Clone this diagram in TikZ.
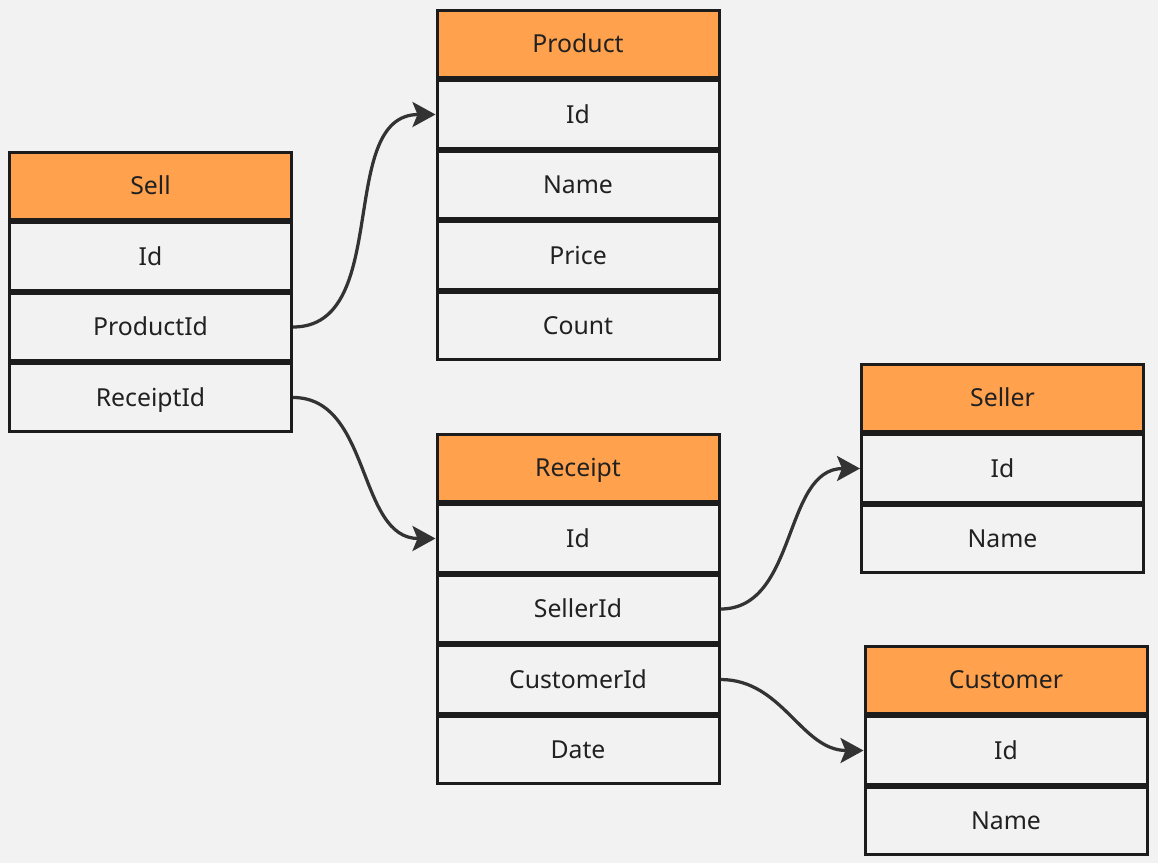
\documentclass[tikz,border=0pt]{standalone}
\usepackage{fontspec}
\setmainfont{Noto Sans}
\usepackage{tikz}
\usetikzlibrary{positioning,arrows.meta}
\definecolor{bg}{HTML}{F2F2F2}
\definecolor{headfill}{HTML}{FFA14D}
\definecolor{boxline}{HTML}{1C1C1C}
\definecolor{linkcol}{HTML}{333333}

\begin{document}
\begin{tikzpicture}[>={Stealth[length=0.46cm,width=0.5cm,inset=0.1cm]},node distance=0cm,
		line width=0.06cm]
		\tikzstyle{field}=[draw=boxline,fill=bg,minimum width=5.64cm,minimum height=1.35cm,
			inner sep=0pt,text height=10pt,text depth=0pt,text=black!87,
			font=\fontsize{14.1}{16}\selectfont]
		\tikzstyle{head}=[field,fill=headfill]
		\tikzstyle{link}=[->,draw=linkcol,line width=0.065cm,out=0,in=180]

		\fill[bg] (0,0) rectangle (23.16,-17.26);
		\useasboundingbox (0,0) rectangle (23.16,-17.26);

		% Sell
		\node[head] (sell) at (3.01,-3.72) {Sell};
		\node[field] (sellid) [below=of sell] {Id};
		\node[field] (sellpid) [below=of sellid] {ProductId};
		\node[field] (sellrid) [below=of sellpid] {ReceiptId};

		% Product
		\node[head] (prod) at (11.56,-0.88) {Product};
		\node[field] (prodid) [below=of prod] {Id};
		\node[field] (prodname) [below=of prodid] {Name};
		\node[field] (prodprice) [below=of prodname] {Price};
		\node[field] (prodcount) [below=of prodprice] {Count};

		% Receipt
		\node[head] (rec) at (11.56,-9.36) {Receipt};
		\node[field] (recid) [below=of rec] {Id};
		\node[field] (recsid) [below=of recid] {SellerId};
		\node[field] (reccid) [below=of recsid] {CustomerId};
		\node[field] (recdate) [below=of reccid] {Date};

		% Seller
		\node[head] (seller) at (20.05,-7.96) {Seller};
		\node[field] (sellerid) [below=of seller] {Id};
		\node[field] (sellername) [below=of sellerid] {Name};

		% Customer
		\node[head] (cust) at (20.12,-13.6) {Customer};
		\node[field] (custid) [below=of cust] {Id};
		\node[field] (custname) [below=of custid] {Name};

		\path
		(sellpid.east) edge[link] (prodid.west)
		(sellrid.east) edge[link] (recid.west)
		(recsid.east) edge[link] (sellerid.west)
		(reccid.east) edge[link] (custid.west);
\end{tikzpicture}
\end{document}
